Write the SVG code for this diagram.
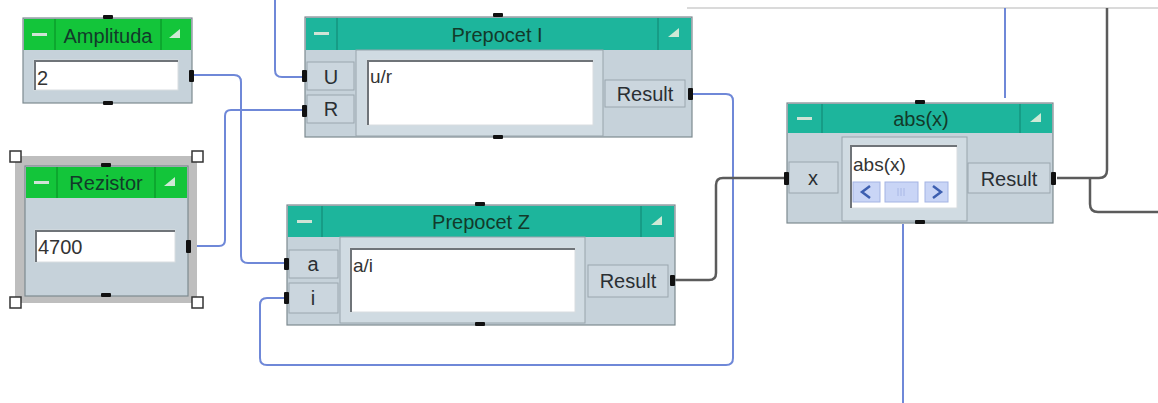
<svg xmlns="http://www.w3.org/2000/svg" width="1158" height="403" viewBox="0 0 1158 403">
<defs>
<style>
.body{fill:#c6d2da;stroke:#7d8a90;stroke-width:1.2}
.green{fill:#13c53a}
.teal{fill:#1db59c}
.divg{stroke:#0a9428;stroke-width:1.2}
.divt{stroke:#148c78;stroke-width:1.2}
.ttl{font-family:"Liberation Sans",Arial,sans-serif;font-size:20px;fill:#123a2a;text-anchor:middle}
.btn{fill:#cbd6de;stroke:#9aa6ae;stroke-width:1}
.btxt{font-family:"Liberation Sans",Arial,sans-serif;font-size:20px;fill:#2a2f33;text-anchor:middle}
.inset{fill:#d0dbe2;stroke:#98a4ab;stroke-width:1}
.field{fill:#ffffff;stroke:#d8dde0;stroke-width:1}
.sunk{fill:none;stroke:#6f7479;stroke-width:2}
.ftxt{font-family:"Liberation Sans",Arial,sans-serif;font-size:19px;fill:#333}
.vtxt{font-family:"Liberation Sans",Arial,sans-serif;font-size:20px;fill:#333}
.pin{fill:#111}
.dash{fill:#cfe3d6}
.ico{fill:#cfe9d6}
.wb{fill:none;stroke:#6f88d8;stroke-width:2}
.wd{fill:none;stroke:#5b5b5b;stroke-width:2.5}
.sb{fill:#c9d5f6;stroke:#a3b3e3;stroke-width:1}
.chev{fill:none;stroke:#3d5fb0;stroke-width:2.5}
</style>
</defs>
<rect width="1158" height="403" fill="#ffffff"/>
<line x1="687" y1="8" x2="1158" y2="8" stroke="#dadada" stroke-width="2"/>

<g id="connectors">
<path class="wb" d="M192,75 H234 Q241,75 241,82 V256 Q241,263 248,263 H285"/>
<path class="wb" d="M191,246 H219 Q225,246 225,240 V116 Q225,110 231,110 H303"/>
<path class="wb" d="M275,0 V70 Q275,77 282,77 H303"/>
<path class="wb" d="M692,94 H726 Q733,94 733,101 V358 Q733,365 726,365 H267 Q260,365 260,358 V305 Q260,298 267,298 H286"/>
<path class="wd" d="M675,280 H709 Q716,280 716,273 V185 Q716,178 723,178 H786"/>
<path class="wb" d="M1005,8 V98"/>
<path class="wb" d="M903,224 V403"/>
<path class="wd" d="M1107,8 V170 Q1107,178 1099,178 H1057"/>
<path class="wd" d="M1090,178 V204 Q1090,212 1098,212 H1158"/>
</g>

<g id="amplituda">
<rect class="body" x="23" y="18" width="169" height="85"/>
<rect class="green" x="24" y="19" width="167" height="31"/>
<line class="divg" x1="55" y1="19" x2="55" y2="50"/>
<line class="divg" x1="161" y1="19" x2="161" y2="50"/>
<rect class="dash" x="32" y="33" width="15" height="3"/>
<polygon class="ico" points="169,38 180,29 180,38"/>
<text class="ttl" x="108" y="43">Amplituda</text>
<rect class="field" x="34" y="60" width="144" height="30"/>
<polyline class="sunk" points="35,90 35,61 178,61"/>
<text class="vtxt" x="37" y="85">2</text>
<rect class="pin" x="103" y="15" width="10" height="4" rx="1"/>
<rect class="pin" x="103" y="101" width="10" height="4" rx="1"/>
<rect class="pin" x="189" y="70" width="5" height="12" rx="1"/>
</g>

<g id="rezistor">
<rect x="15" y="156" width="182" height="147" fill="#bebebe"/>
<rect class="body" x="25" y="166" width="163" height="130"/>
<rect class="green" x="26" y="167" width="161" height="31"/>
<line class="divg" x1="57" y1="167" x2="57" y2="198"/>
<line class="divg" x1="155" y1="167" x2="155" y2="198"/>
<rect class="dash" x="34" y="181" width="15" height="3"/>
<polygon class="ico" points="164,186 175,177 175,186"/>
<text class="ttl" x="106" y="190">Rezistor</text>
<rect class="field" x="35" y="230" width="140" height="32"/>
<polyline class="sunk" points="36,262 36,231 175,231"/>
<text class="vtxt" x="38" y="254">4700</text>
<rect class="pin" x="101" y="163" width="10" height="4" rx="1"/>
<rect class="pin" x="101" y="293" width="10" height="4" rx="1"/>
<rect class="pin" x="186" y="240" width="5" height="13" rx="1"/>
<rect x="10" y="151" width="11" height="11" fill="#fff" stroke="#333" stroke-width="1.5"/>
<rect x="192" y="151" width="11" height="11" fill="#fff" stroke="#333" stroke-width="1.5"/>
<rect x="10" y="297" width="11" height="11" fill="#fff" stroke="#333" stroke-width="1.5"/>
<rect x="192" y="297" width="11" height="11" fill="#fff" stroke="#333" stroke-width="1.5"/>
</g>

<g id="prepocet-i">
<rect class="body" x="305" y="17" width="387" height="120"/>
<rect class="teal" x="306" y="18" width="385" height="32"/>
<line class="divt" x1="337" y1="18" x2="337" y2="50"/>
<line class="divt" x1="658" y1="18" x2="658" y2="50"/>
<rect class="dash" x="314" y="32" width="15" height="3"/>
<polygon class="ico" points="668,37 679,28 679,37"/>
<text class="ttl" x="497" y="42">Prepocet I</text>
<rect class="btn" x="307" y="62" width="47" height="28"/>
<rect class="btn" x="307" y="95" width="47" height="28"/>
<text class="btxt" x="331" y="84">U</text>
<text class="btxt" x="331" y="116">R</text>
<rect class="inset" x="356" y="50" width="247" height="86"/>
<rect class="field" x="367" y="60" width="226" height="65"/>
<polyline class="sunk" points="368,125 368,61 593,61"/>
<text class="ftxt" x="370" y="83">u/r</text>
<rect class="btn" x="605" y="80" width="80" height="27"/>
<text class="btxt" x="645" y="101">Result</text>
<rect class="pin" x="493" y="13" width="10" height="4" rx="1"/>
<rect class="pin" x="493" y="135" width="10" height="4" rx="1"/>
<rect class="pin" x="302" y="70" width="5" height="12" rx="1"/>
<rect class="pin" x="302" y="105" width="5" height="12" rx="1"/>
<rect class="pin" x="688" y="88" width="5" height="12" rx="1"/>
</g>

<g id="prepocet-z">
<rect class="body" x="287" y="205" width="388" height="120"/>
<rect class="teal" x="288" y="206" width="386" height="31"/>
<line class="divt" x1="322" y1="206" x2="322" y2="237"/>
<line class="divt" x1="641" y1="206" x2="641" y2="237"/>
<rect class="dash" x="297" y="220" width="15" height="3"/>
<polygon class="ico" points="651,225 662,216 662,225"/>
<text class="ttl" x="481" y="229">Prepocet Z</text>
<rect class="btn" x="289" y="250" width="49" height="28"/>
<rect class="btn" x="289" y="283" width="49" height="30"/>
<text class="btxt" x="313" y="271">a</text>
<text class="btxt" x="313" y="305">i</text>
<rect class="inset" x="340" y="237" width="245" height="86"/>
<rect class="field" x="350" y="248" width="225" height="64"/>
<polyline class="sunk" points="351,312 351,249 575,249"/>
<text class="ftxt" x="353" y="272">a/i</text>
<rect class="btn" x="588" y="265" width="80" height="32"/>
<text class="btxt" x="628" y="288">Result</text>
<rect class="pin" x="475" y="202" width="10" height="4" rx="1"/>
<rect class="pin" x="475" y="322" width="10" height="4" rx="1"/>
<rect class="pin" x="284" y="258" width="5" height="12" rx="1"/>
<rect class="pin" x="284" y="292" width="5" height="12" rx="1"/>
<rect class="pin" x="670" y="275" width="5" height="11" rx="1"/>
</g>

<g id="abs-x">
<rect class="body" x="787" y="103" width="266" height="120"/>
<rect class="teal" x="788" y="104" width="264" height="29"/>
<line class="divt" x1="822" y1="104" x2="822" y2="133"/>
<line class="divt" x1="1020" y1="104" x2="1020" y2="133"/>
<rect class="dash" x="797" y="117" width="15" height="3"/>
<polygon class="ico" points="1030,122 1041,113 1041,122"/>
<text class="ttl" x="921" y="126">abs(x)</text>
<rect class="btn" x="789" y="162" width="49" height="31"/>
<text class="btxt" x="813" y="185">x</text>
<rect class="inset" x="842" y="137" width="125" height="84"/>
<rect class="field" x="850" y="145" width="107" height="63"/>
<polyline class="sunk" points="851,208 851,146 957,146"/>
<text class="ftxt" x="853" y="171">abs(x)</text>
<rect class="sb" x="853" y="182" width="27" height="20"/>
<polyline class="chev" points="870,186 862,192 870,198"/>
<rect class="sb" x="885" y="182" width="33" height="20" fill="#d3def9"/>
<line x1="898" y1="188" x2="898" y2="196" stroke="#a9b8e6" stroke-width="1"/>
<line x1="901" y1="188" x2="901" y2="196" stroke="#a9b8e6" stroke-width="1"/>
<line x1="904" y1="188" x2="904" y2="196" stroke="#a9b8e6" stroke-width="1"/>
<rect class="sb" x="925" y="182" width="23" height="20"/>
<polyline class="chev" points="933,186 941,192 933,198"/>
<rect class="btn" x="968" y="163" width="82" height="30"/>
<text class="btxt" x="1009" y="186">Result</text>
<rect class="pin" x="915" y="100" width="10" height="4" rx="1"/>
<rect class="pin" x="915" y="220" width="10" height="4" rx="1"/>
<rect class="pin" x="784" y="172" width="5" height="13" rx="1"/>
<rect class="pin" x="1051" y="172" width="5" height="13" rx="1"/>
</g>
</svg>
